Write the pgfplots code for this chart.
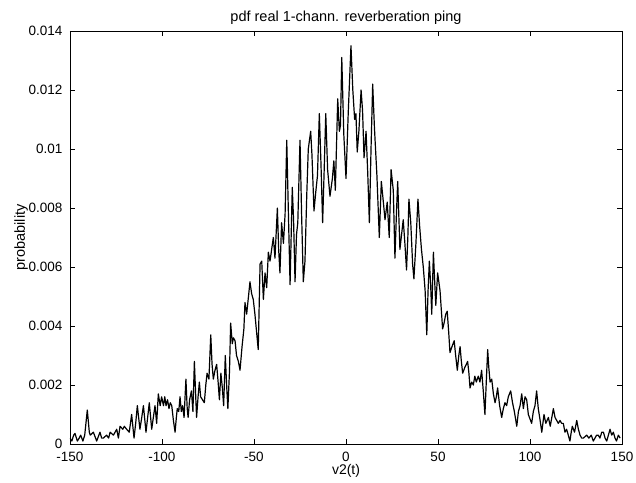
\documentclass[border=0pt]{standalone}
\usepackage{pgfplots}
\pgfplotsset{compat=1.18}
\usepackage{fontspec}
\setmainfont{Liberation Sans}
\begin{document}
\begin{tikzpicture}
\useasboundingbox (-70pt,-38pt) rectangle (566pt,444pt);
\begin{axis}[
  at={(0pt,0pt)}, anchor=south west,
  scale only axis, width=552pt, height=413pt,
  xmin=-150, xmax=150, ymin=0, ymax=0.014,
  xtick={-150,-100,...,150},
  ytick={0,0.002,0.004,0.006,0.008,0.010,0.012,0.014},
  scaled y ticks=false,
  yticklabels={0,0.002,0.004,0.006,0.008,0.01,0.012,0.014},
  tick align=inside, major tick length=5pt,
  tick style={black, line width=0.8pt},
  axis line style={line width=0.8pt},
  ticklabel style={font=\fontsize{13.5}{15}\selectfont, inner sep=1pt},
  xticklabel style={yshift=-7pt},
  yticklabel style={xshift=-6.5pt},
  /pgf/number format/assume math mode=true,
  title={pdf real 1-chann. reverberation ping},
  title style={font=\fontsize{14.5}{16}\selectfont, yshift=-3pt},
  xlabel={v2(t)}, ylabel={probability},
  xlabel style={font=\fontsize{14}{15}\selectfont, yshift=2pt},
  ylabel style={font=\fontsize{14.5}{16}\selectfont, yshift=-4pt},
]
\addplot[black, line width=1.2pt, line join=round] coordinates {
(-150,0.0002) (-149,0.0001) (-148,0.0003) (-147.3,0.00036) (-146,0.0001) (-145,0.0002)
(-144.2,0.0003) (-143,0.0001) (-142,0.0003) (-140.6,0.00115) (-139.5,0.0004) (-139,0.0003)
(-137.3,0.0004) (-135.5,0.0001) (-133.7,0.0004) (-132.8,0.0002) (-131.9,0.0002) (-130.1,0.0003)
(-129,0.0002) (-128.2,0.0004) (-126.4,0.0003) (-124.6,0.0005) (-123.7,0.0002) (-122.8,0.0006)
(-121.3,0.0005) (-120.5,0.0006) (-119.2,0.0005) (-117.8,0.0004) (-116.5,0.001) (-115.2,0.0002)
(-114.3,0.0007) (-113.4,0.0013) (-112,0.0005) (-111,0.0009) (-110.1,0.0013) (-108.7,0.0004)
(-107.8,0.0009) (-106.9,0.0014) (-105.6,0.0005) (-104.7,0.0009) (-103.8,0.0013) (-102.9,0.0007)
(-102,0.0017) (-101,0.0013) (-100.2,0.0016) (-99.2,0.0013) (-98.5,0.0016) (-97.8,0.0013)
(-97,0.0015) (-96.2,0.0012) (-95.5,0.0014) (-94.7,0.0013) (-93.8,0.0008) (-92.9,0.0004)
(-92.2,0.0009) (-91.7,0.0012) (-90.9,0.0011) (-90.2,0.0016) (-89.5,0.0011) (-88.8,0.0013)
(-88,0.0009) (-87,0.0022) (-86.3,0.0012) (-85.8,0.0009) (-85,0.0015) (-84,0.0018)
(-83.2,0.0011) (-82.4,0.0028) (-81.6,0.0015) (-81.2,0.0009) (-80.4,0.0016) (-79.7,0.0021)
(-79,0.0016) (-78,0.0015) (-77,0.0014) (-76.2,0.002) (-75.5,0.0024) (-74.5,0.0022)
(-73.5,0.0037) (-72.8,0.0027) (-72.1,0.0022) (-71.2,0.0025) (-70.3,0.0027) (-69.5,0.0021)
(-68.8,0.0015) (-68,0.0024) (-67.2,0.0019) (-66.5,0.0013) (-65.6,0.003) (-64.8,0.0019)
(-64.2,0.0012) (-63.3,0.0025) (-62.7,0.0041) (-61.8,0.0034) (-61.2,0.0036) (-60.3,0.0035)
(-59.5,0.0030) (-58.5,0.0028) (-57.6,0.0025) (-56.5,0.0033) (-55.5,0.0039) (-54.9,0.0048)
(-54,0.0044) (-53,0.005) (-52.2,0.0055) (-51.3,0.0051) (-50.4,0.0049) (-49.5,0.0044)
(-48.6,0.0038) (-47.7,0.0032) (-46.7,0.0061) (-45.8,0.0062) (-44.9,0.0049) (-44,0.0058)
(-43.1,0.0053) (-42.2,0.0065) (-41.3,0.0062) (-40.4,0.0066) (-39.5,0.007) (-38.6,0.0063)
(-37.3,0.008) (-36.6,0.0066) (-35.9,0.0058) (-35,0.0075) (-34,0.0068) (-33.1,0.0078)
(-32.2,0.0103) (-31.3,0.0078) (-30.4,0.0054) (-29.2,0.0087) (-28.5,0.0076) (-27.7,0.0055)
(-26.9,0.0071) (-26.2,0.0075) (-25,0.0103) (-24.1,0.0077) (-23.2,0.0055) (-22.3,0.0062)
(-21.3,0.0085) (-20.5,0.0100) (-19.2,0.0106) (-18.5,0.0098) (-17.4,0.0079) (-16.5,0.0085)
(-15.5,0.0091) (-14.5,0.0112) (-13.6,0.0095) (-12.7,0.0075) (-11.9,0.0092) (-11,0.0112)
(-10,0.0093) (-8.7,0.0084) (-7.4,0.0090) (-6.6,0.0096) (-5.8,0.0086) (-4.5,0.0117)
(-3.6,0.0106) (-3.0,0.0108) (-2.3,0.0131) (-1.2,0.0105) (0,0.0090) (1.2,0.0112)
(2.7,0.0135) (3.7,0.0120) (4.7,0.0110) (5.4,0.0112) (6.1,0.0099) (7,0.0106)
(8.2,0.0120) (9,0.0113) (9.8,0.0097) (10.9,0.0106) (11.8,0.0092) (12.7,0.0075)
(13.6,0.0100) (14.5,0.0122) (15.4,0.0108) (15.8,0.0103) (16.8,0.0091) (18.1,0.0070)
(19.2,0.0089) (20.3,0.0082) (21.2,0.0076) (22.4,0.0082) (23.5,0.0070) (24.5,0.0093)
(25.7,0.0086) (26.6,0.0063) (27.4,0.0078) (28.1,0.0089) (29.3,0.0066) (30.2,0.0071)
(31.1,0.0076) (32,0.0068) (32.9,0.0059) (33.6,0.0070) (34.2,0.0083) (35.2,0.0075)
(36.2,0.0061) (36.9,0.0056) (38,0.0068) (39.1,0.0083) (40,0.0074) (41,0.0066)
(42,0.0060) (43,0.0052) (43.9,0.0037) (44.6,0.0052) (45.3,0.0062) (46,0.0054)
(46.6,0.0044) (47.5,0.0065) (48.2,0.0055) (48.8,0.0047) (49.8,0.0058) (51.1,0.0052)
(52.5,0.0039) (53.3,0.0041) (54.2,0.0044) (55,0.0045) (55.8,0.0038) (56.5,0.0031)
(57.6,0.0033) (58.8,0.0035) (59.6,0.0030) (60.5,0.0025) (61.3,0.0030) (62,0.0033)
(62.7,0.0028) (63.4,0.0024) (64.6,0.0026) (65.4,0.0027) (66.1,0.0028) (66.8,0.0024)
(67.4,0.0019) (68.3,0.0021) (69.2,0.0020) (70,0.0023) (70.8,0.0021) (71.9,0.0023)
(72.8,0.0021) (73.7,0.0025) (74.6,0.0018) (75.5,0.0010) (76.3,0.0022) (77,0.0032)
(77.6,0.0026) (78.3,0.0021) (79.2,0.0022) (80.1,0.0017) (81,0.0014) (81.7,0.0016)
(82.4,0.0019) (83.5,0.0013) (84.6,0.0009) (85.5,0.0012) (86.4,0.0014) (87.3,0.0013)
(88.2,0.0016) (89.5,0.0018) (90.5,0.0014) (91.5,0.0011) (92.8,0.0006) (93.7,0.0011)
(94.6,0.0013) (95.5,0.0017) (96.4,0.0012) (97.3,0.0016) (98.2,0.0015) (99.1,0.0010)
(100.9,0.0007) (101.8,0.0011) (102.7,0.0013) (103.6,0.0018) (104.5,0.0012) (105.5,0.0008)
(106.4,0.0004) (107.6,0.0010) (108.6,0.0007) (110,0.0009) (111,0.0006) (112.7,0.0012)
(113.6,0.0009) (114.5,0.0008) (115.4,0.0007) (116.3,0.0008) (117.2,0.0007) (118.1,0.0007)
(119,0.0004) (119.9,0.0005) (120.8,0.0003) (121.7,0.0001) (122.4,0.0004) (123,0.0006)
(124.2,0.0004) (125.4,0.0008) (126.3,0.0005) (127.2,0.0003) (128.1,0.0002) (129,0.0002)
(130.8,0.0003) (132,0.0002) (133.3,0.0003) (134.4,0.0001) (135.3,0.0002) (136.2,0.0003)
(137.1,0.0003) (138,0.0002) (139,0.0004) (139.9,0.0004) (140.8,0.0002) (141.7,0.0001)
(142.6,0.0003) (143.5,0.0005) (144.4,0.0003) (145.3,0.0004) (146.2,0.0002) (147,0.0001)
(148,0.0003) (149,0.0002)
};
\end{axis}
\end{tikzpicture}
\end{document}
